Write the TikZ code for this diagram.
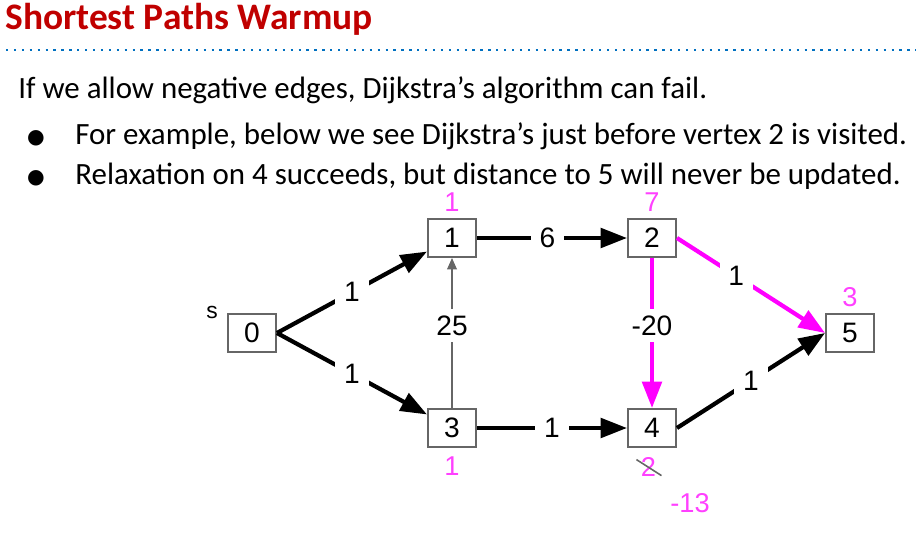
\documentclass[tikz,border=0pt]{standalone}
\usepackage{fontspec}
\setmainfont{Carlito}
\newfontfamily\graphfont{Liberation Sans}
\newfontfamily\symfont{DejaVu Sans}
\usetikzlibrary{arrows.meta,positioning}
\definecolor{titlered}{RGB}{192,0,0}
\definecolor{ruleblue}{RGB}{0,112,192}
\definecolor{hotpink}{RGB}{255,0,255}
\definecolor{distpink}{RGB}{255,64,255}
\definecolor{boxgray}{RGB}{102,102,102}

\begin{document}
\begin{tikzpicture}[x=0.02cm,y=-0.02cm,
  vertex/.style={draw=boxgray,line width=1.1pt,fill=white,minimum width=0.96cm,minimum height=0.76cm,
                 inner sep=0pt,font=\graphfont\fontsize{16}{19}\selectfont},
  dist/.style={text=distpink,inner sep=0pt,font=\graphfont\fontsize{15.5}{18}\selectfont},
  wt/.style={fill=white,inner xsep=5pt,inner ysep=4pt,font=\graphfont\fontsize{16}{19}\selectfont},
  arr/.style={-{Triangle[length=15pt,width=11pt]},line width=2.4pt},
  hot/.style={arr,draw=hotpink},
  thinarr/.style={-{Triangle[length=6.5pt,width=5.5pt]},line width=0.9pt,draw=boxgray},
  body/.style={anchor=base west,inner sep=0pt,font=\fontsize{17.6}{21}\selectfont},
  dot/.style={inner sep=0pt,font=\symfont\fontsize{11.5}{13}\selectfont}
]
  \useasboundingbox (0,0) rectangle (916,544);
  % Heading
  \node[anchor=base west,inner sep=0pt,text=titlered,font=\bfseries\fontsize{21.3}{25}\selectfont] (title) at (5,30) {Shortest Paths Warmup};
  \draw[ruleblue,line width=1.3pt,dash pattern=on 1.3pt off 3.2pt] (6,50) -- (916,50);
  % Text
  \node[body] (intro) at (18,99) {If we allow negative edges, Dijkstra’s algorithm can fail.};
  \node[dot] (bullA) at (36,138) {●};
  \node[body] (lineA) at (75,144) {For example, below we see Dijkstra’s just before vertex 2 is visited.};
  \node[dot] (bullB) at (36,178) {●};
  \node[body] (lineB) at (75,184) {Relaxation on 4 succeeds, but distance to 5 will never be updated.};
  % Vertices
  \node[vertex] (v0) at (252,333) {0};
  \node[vertex] (v1) at (452,238) {1};
  \node[vertex] (v2) at (652,238) {2};
  \node[vertex] (v3) at (452,428) {3};
  \node[vertex] (v4) at (652,428) {4};
  \node[vertex] (v5) at (850,333) {5};
  \node[inner sep=0pt,font=\graphfont\fontsize{13}{15}\selectfont] (src) at (212,312) {s};
  % Distances
  \node[dist,above=3.5pt of v1] (d1) {1};
  \node[dist,above=3.5pt of v2] (d2) {7};
  \node[dist,above=3.5pt of v5] (d5) {3};
  \node[dist,below=5pt of v3] (d3) {1};
  \node[dist,below=5pt of v4,xshift=-2pt] (d4) {2};
  \draw[boxgray,line width=0.9pt] (d4.center) ++(-12,-7) -- ++(25,16);
  \node[dist] (d4new) at (690,503) {-13};
  % Edges
  \draw[arr] (v0.east) -- node[wt]{1} (v1);
  \draw[arr] (v0.east) -- node[wt]{1} (v3);
  \draw[arr] (v1) -- node[wt,pos=0.47]{6} (v2);
  \draw[thinarr] (v3) -- node[wt,pos=0.55]{25} (v1);
  \draw[arr] (v3) -- node[wt]{1} (v4);
  \draw[hot] (v2) -- node[wt,pos=0.45]{-20} (v4);
  \draw[hot] (v2.east) -- node[wt,pos=0.4]{1} (v5.west);
  \draw[arr] (v4.east) -- node[wt]{1} (v5.west);
\end{tikzpicture}
\end{document}
